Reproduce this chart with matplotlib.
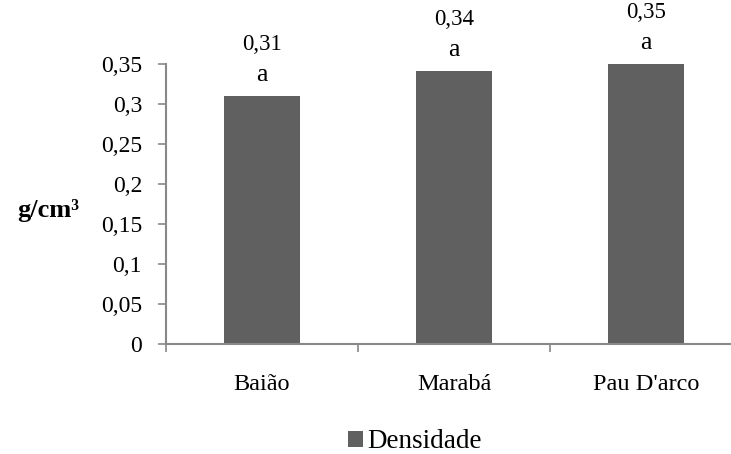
import matplotlib
matplotlib.use("Agg")
import matplotlib.pyplot as plt
from matplotlib.ticker import FixedLocator

categories = ["Baião", "Marabá", "Pau D'arco"]
values = [0.31, 0.342, 0.35]
value_labels = ["0,31", "0,34", "0,35"]
letters = ["a", "a", "a"]
yticks = [0, 0.05, 0.1, 0.15, 0.2, 0.25, 0.3, 0.35]
ytick_labels = ["0", "0,05", "0,1", "0,15", "0,2", "0,25", "0,3", "0,35"]
series_name = "Densidade"

plt.rcParams['font.family'] = 'serif'
plt.rcParams['font.serif'] = ['Liberation Serif', 'DejaVu Serif']

DPI = 100
PT = 72 / DPI  # points per pixel

fig = plt.figure(figsize=(7.31, 4.54), dpi=DPI)
left = 166 / 731
width = (742 - 166) / 731
bottom = (454 - 344.3) / 454
height = (344.3 - 64.3) / 454
ax = fig.add_axes([left, bottom, width, height])

color = "#606060"
x = list(range(len(categories)))
bars = ax.bar(x, values, width=0.4, color=color, label=series_name, zorder=2)
ax.set_xlim(-0.5, 2.5)
ax.set_ylim(0, 0.35)

ax.set_yticks(yticks)
ax.set_yticklabels(ytick_labels, fontsize=17)
ax.set_xticks(x)
ax.set_xticklabels(categories, fontsize=17.5)
ax.tick_params(axis='x', length=0, pad=30 * PT)
ax.xaxis.set_minor_locator(FixedLocator([-0.5, 0.5, 1.5, 2.5]))
ax.tick_params(axis='x', which='minor', length=8 * PT, direction='out', color="#888888", width=1.2)
ax.tick_params(axis='y', length=8 * PT, direction='out', color="#888888", width=1.2, pad=16 * PT)

for s in ['top', 'right']:
    ax.spines[s].set_visible(False)
for s in ['left', 'bottom']:
    ax.spines[s].set_color("#888888")
    ax.spines[s].set_linewidth(1.5)

for xi, v, vl, lt in zip(x, values, value_labels, letters):
    ax.annotate(lt, (xi, v), xytext=(0, 15 * PT), textcoords='offset points',
                ha='center', va='baseline', fontsize=18.5)
    ax.annotate(vl, (xi, v), xytext=(0, 46 * PT), textcoords='offset points',
                ha='center', va='baseline', fontsize=16.5)

fig.text(48 / 731, 1 - 211 / 454, "g/cm³", fontsize=19, fontweight='bold',
         ha='center', va='center')

leg = fig.legend(handles=[bars], labels=[series_name], loc='center',
                 bbox_to_anchor=(415 / 731, 1 - 442 / 454), frameon=False,
                 fontsize=19.5, handlelength=0.55, handleheight=0.55, handletextpad=0.18,
                 borderpad=0, borderaxespad=0)

fig.savefig("out.png", dpi=DPI)
